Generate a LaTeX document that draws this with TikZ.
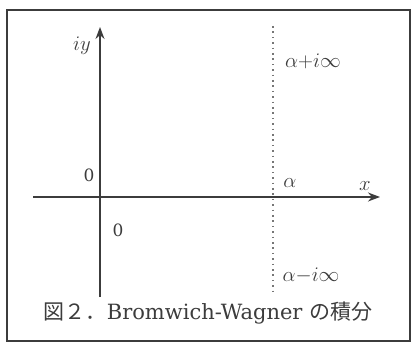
\documentclass[tikz,border=0pt]{standalone}
\usepackage{fontspec}
\usepackage{amsmath}
\setmainfont{DejaVu Serif}
\newfontfamily\cjk{Noto Sans CJK JP}
\usetikzlibrary{arrows.meta}
\definecolor{inkgray}{HTML}{3C3C3C}
\tikzset{
  axisline/.style={-{Stealth[length=12pt,width=9pt]}, line width=1.5pt, draw=inkgray},
  contour/.style={line width=1.8pt, draw=inkgray!70, dash pattern=on 1.6pt off 3.8pt},
  lbl/.style={text=inkgray, font=\fontsize{20.5}{23}\selectfont, inner sep=0pt}
}

\begin{document}
\begin{tikzpicture}[x=1pt, y=-1pt]
    \useasboundingbox (0,0) rectangle (411,344);
    \draw[line width=1.8pt, inkgray] (7,10) rectangle (410,341);
    % axes
    \coordinate (xs) at (33,197);
    \coordinate (xe) at (380,197);
    \coordinate (ys) at (100,297);
    \coordinate (ye) at (100,27);
    \draw[axisline] (xs) -- (xe);
    \draw[axisline] (ys) -- (ye);
    % integration line
    \coordinate (ct) at (273,26);
    \coordinate (cb) at (273,294);
    \draw[contour] (ct) -- (cb);
    \node[lbl] (iy) at (82,46) {$iy$};
    \node[lbl] (xl) at (365,186) {$x$};
    \node[lbl] (al) at (290,183) {$\alpha$};
    \node[lbl] (ap) at (313,61) {$\alpha{+}i\infty$};
    \node[lbl] (am) at (311,276) {$\alpha{-}i\infty$};
    \node[lbl, font=\fontsize{17}{19}\selectfont] (zu) at (89,175) {0};
    \node[lbl, font=\fontsize{17}{19}\selectfont] (zd) at (118,230) {0};
    \node[lbl, font=\fontsize{21}{24}\selectfont] (cap) at (208,313)
      {{\cjk 図２．}Bromwich-Wagner {\cjk の積分}};
\end{tikzpicture}
\end{document}
